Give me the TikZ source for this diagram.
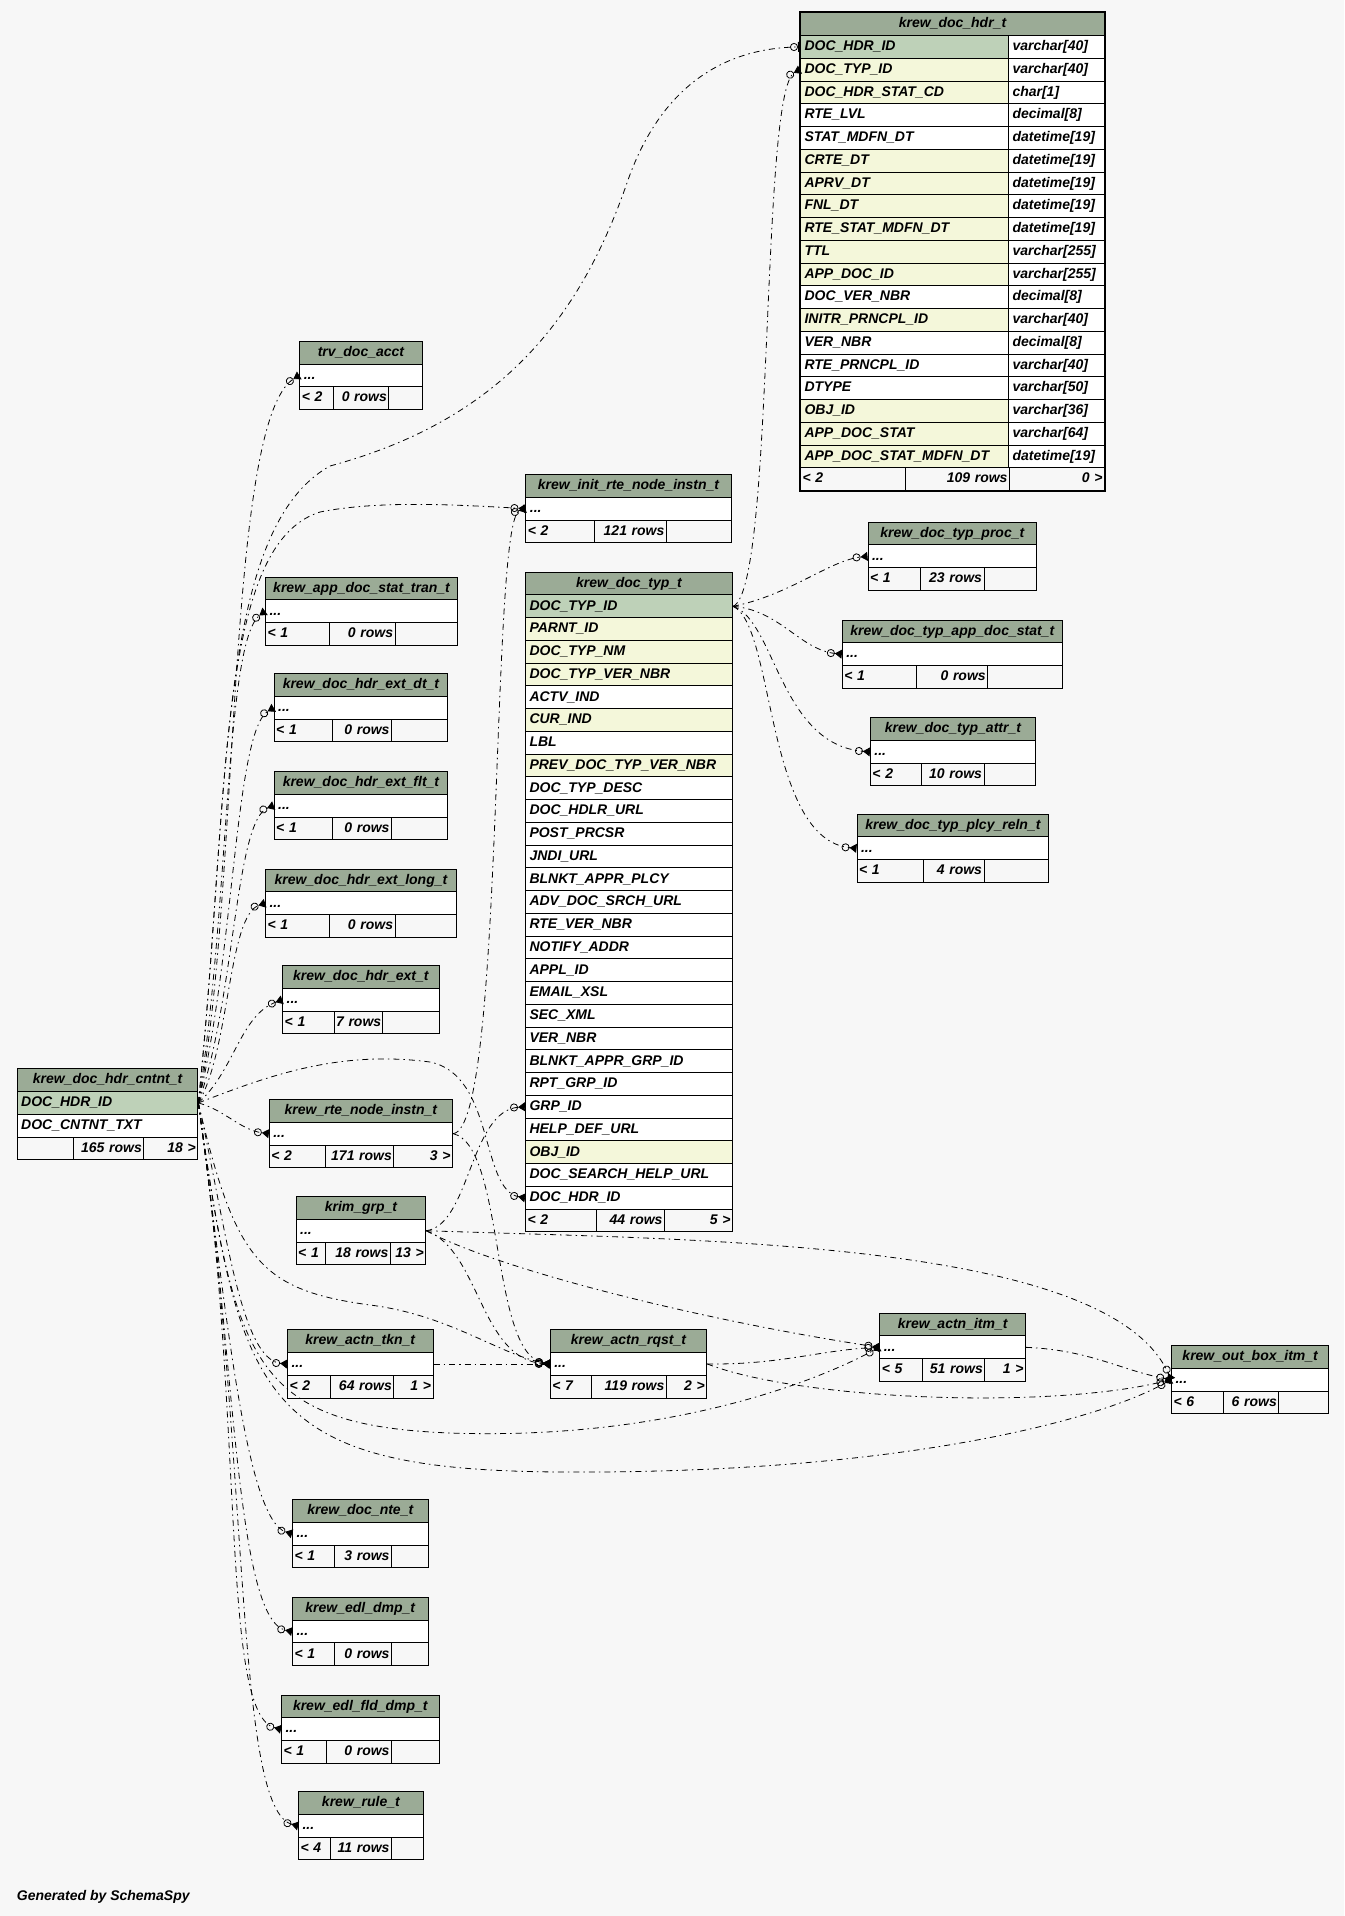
\documentclass[tikz,border=0pt]{standalone}
\usepackage{fontspec}
\setmainfont{Liberation Sans}
\usetikzlibrary{arrows.meta,positioning}
\definecolor{bgc}{HTML}{F7F7F7}
\definecolor{hdrc}{HTML}{9BAB96}
\definecolor{pkc}{HTML}{BED1B8}
\definecolor{fkc}{HTML}{F4F7DA}

\begin{document}
\begin{tikzpicture}[
  x=1pt, y=-1pt,
  font=\fontsize{14}{16}\selectfont\bfseries\itshape,
  cell/.style={
    draw=black,
    line width=1pt,
    anchor=north west,
    minimum height=22.75pt,
    inner xsep=4pt,
    inner ysep=0pt,
    text height=10.5pt,
    text depth=3pt
  },
  tname/.style={cell, fill=hdrc, align=center},
  fld/.style={cell, fill=white, align=left},
  foot/.style={cell, fill=bgc, inner xsep=2pt},
  rel/.style={draw=black, line width=0.8pt, dash pattern=on 6pt off 4pt on 1.5pt off 4pt},
  many/.style={rel, -{Circle[open, length=8pt, line width=0.8pt] Triangle[reversed, length=7pt, width=9pt]}},
  one/.style={rel, -{Circle[open, length=8pt, line width=0.8pt] Bar[width=10pt, line width=2pt]}}
]
  \path[use as bounding box, fill=bgc] (0,0) rectangle (1344,1916);

  % krew_doc_hdr_t
  \node[tname, minimum width=304pt] (hdr) at (800,12.3) {krew\_doc\_hdr\_t};
  \foreach \f/\t/\c [count=\i] in {
    DOC\_HDR\_ID/varchar[40]/pkc, DOC\_TYP\_ID/varchar[40]/fkc,
    DOC\_HDR\_STAT\_CD/char[1]/fkc, RTE\_LVL/decimal[8]/white,
    STAT\_MDFN\_DT/datetime[19]/white, CRTE\_DT/datetime[19]/fkc,
    APRV\_DT/datetime[19]/fkc, FNL\_DT/datetime[19]/fkc,
    RTE\_STAT\_MDFN\_DT/datetime[19]/fkc, TTL/varchar[255]/fkc,
    APP\_DOC\_ID/varchar[255]/fkc, DOC\_VER\_NBR/decimal[8]/white,
    INITR\_PRNCPL\_ID/varchar[40]/fkc, VER\_NBR/decimal[8]/white,
    RTE\_PRNCPL\_ID/varchar[40]/white, DTYPE/varchar[50]/white,
    OBJ\_ID/varchar[36]/fkc, APP\_DOC\_STAT/varchar[64]/fkc,
    APP\_DOC\_STAT\_MDFN\_DT/datetime[19]/fkc}
  {
    \node[fld, fill=\c, text width=200pt] (hdr-\i) at (800,12.3+22.75*\i) {\f};
    \node[fld, text width=88pt] (hdr-\i t) at (1008,12.3+22.75*\i) {\t};
  }
  \node[foot, text width=101pt, align=left] (hdr-f1) at (800,467.3) {< 2};
  \node[foot, text width=100pt, align=right] (hdr-f2) at (905,467.3) {109 rows};
  \node[foot, text width=91pt, align=right] (hdr-f3) at (1009,467.3) {0 >};
  \draw[line width=2pt] (hdr.north west) rectangle (hdr-f3.south east);

  % krew_doc_typ_t
  \node[tname, minimum width=207pt] (typ) at (525,571.7) {krew\_doc\_typ\_t};
  \foreach \f/\c [count=\i] in {
    DOC\_TYP\_ID/pkc, PARNT\_ID/fkc, DOC\_TYP\_NM/fkc, DOC\_TYP\_VER\_NBR/fkc,
    ACTV\_IND/white, CUR\_IND/fkc, LBL/white, PREV\_DOC\_TYP\_VER\_NBR/fkc,
    DOC\_TYP\_DESC/white, DOC\_HDLR\_URL/white, POST\_PRCSR/white,
    JNDI\_URL/white, BLNKT\_APPR\_PLCY/white, ADV\_DOC\_SRCH\_URL/white,
    RTE\_VER\_NBR/white, NOTIFY\_ADDR/white, APPL\_ID/white, EMAIL\_XSL/white,
    SEC\_XML/white, VER\_NBR/white, BLNKT\_APPR\_GRP\_ID/white,
    RPT\_GRP\_ID/white, GRP\_ID/white, HELP\_DEF\_URL/white, OBJ\_ID/fkc,
    DOC\_SEARCH\_HELP\_URL/white, DOC\_HDR\_ID/white}
  {
    \node[fld, fill=\c, text width=199pt] (typ-\i) at (525,571.7+22.75*\i) {\f};
  }
  \node[foot, text width=67pt, align=left] (typ-f1) at (525,1208.7) {< 2};
  \node[foot, text width=64pt, align=right] (typ-f2) at (596,1208.7) {44 rows};
  \node[foot, text width=64pt, align=right] (typ-f3) at (664,1208.7) {5 >};

  % krew_doc_hdr_cntnt_t
  \node[tname, minimum width=180.6pt] (cntnt) at (16.7,1068.3) {krew\_doc\_hdr\_cntnt\_t};
  \node[fld, fill=pkc, text width=172.6pt] (cntnt-1) at (16.7,1091.05) {DOC\_HDR\_ID};
  \node[fld, text width=172.6pt] (cntnt-2) at (16.7,1113.8) {DOC\_CNTNT\_TXT};
  \node[foot, text width=52pt] (cntnt-f1) at (16.7,1136.55) {};
  \node[foot, text width=66.6pt, align=right] (cntnt-f2) at (72.7,1136.55) {165 rows};
  \node[foot, text width=50pt, align=right] (cntnt-f3) at (143.3,1136.55) {18 >};

  % tables shown collapsed
  \foreach \id/\x/\y/\r/\ttl/\sa/\sb/\fa/\fb/\fc in {
    acct/299.3/340.8/421.6/trv\_doc\_acct/332.8/388.4/{< 2}/{0 rows}/{},
    init/525.4/474/730.6/krew\_init\_rte\_node\_instn\_t/593.8/665.9/{< 2}/{121 rows}/{},
    app/265.1/576.7/457/krew\_app\_doc\_stat\_tran\_t/328.7/394.6/{< 1}/{0 rows}/{},
    extdt/273.7/673.2/447.2/krew\_doc\_hdr\_ext\_dt\_t/332.3/391/{< 1}/{0 rows}/{},
    extflt/273.7/771/447.2/krew\_doc\_hdr\_ext\_flt\_t/332.3/391/{< 1}/{0 rows}/{},
    extlong/265.1/868.7/455.7/krew\_doc\_hdr\_ext\_long\_t/328.7/394.6/{< 1}/{0 rows}/{},
    ext/282.2/965.2/438.6/krew\_doc\_hdr\_ext\_t/333.6/382.4/{< 1}/{7 rows}/{},
    rte/268.8/1099/452/krew\_rte\_node\_instn\_t/325/393.4/{< 2}/{171 rows}/{3 >},
    krim/295.7/1196.1/425.2/krim\_grp\_t/325/389.8/{< 1}/{18 rows}/{13 >},
    tkn/287.1/1329.3/432.5/krew\_actn\_tkn\_t/329.9/393.4/{< 2}/{64 rows}/{1 >},
    rqst/549.8/1329.3/706.2/krew\_actn\_rqst\_t/591.4/665.9/{< 7}/{119 rows}/{2 >},
    itm/879.3/1312.7/1025/krew\_actn\_itm\_t/921.7/984.3/{< 5}/{51 rows}/{1 >},
    obox/1171/1345/1328.3/krew\_out\_box\_itm\_t/1223.3/1278.3/{< 6}/{6 rows}/{},
    nte/292/1499.1/427.6/krew\_doc\_nte\_t/333.6/391/{< 1}/{3 rows}/{},
    edl/292/1596.9/427.6/krew\_edl\_dmp\_t/333.6/391/{< 1}/{0 rows}/{},
    edlfld/281/1694.6/438.6/krew\_edl\_fld\_dmp\_t/326.2/391/{< 1}/{0 rows}/{},
    rule/298.1/1791.2/422.7/krew\_rule\_t/329.9/391/{< 4}/{11 rows}/{},
    proc/867.5/521.7/1036.1/krew\_doc\_typ\_proc\_t/920/983.5/{< 1}/{23 rows}/{},
    appstat/841.8/619.5/1061.7/krew\_doc\_typ\_app\_doc\_stat\_t/916.4/987.2/{< 1}/{0 rows}/{},
    attr/869.9/717.2/1034.9/krew\_doc\_typ\_attr\_t/921.2/983.5/{< 2}/{10 rows}/{},
    plcy/856.5/813.7/1048.3/krew\_doc\_typ\_plcy\_reln\_t/922.5/983.5/{< 1}/{4 rows}/{}}
  {
    \pgfmathsetmacro\w{\r-\x}
    \pgfmathsetmacro\wr{\r-\x-8}
    \pgfmathsetmacro\wa{\sa-\x-4}
    \pgfmathsetmacro\wb{\sb-\sa-4}
    \pgfmathsetmacro\wc{\r-\sb-4}
    \node[tname, minimum width=\w pt] (\id) at (\x,\y) {\ttl};
    \node[fld, text width=\wr pt] (\id-r) at (\x,\y+22.75) {...};
    \node[foot, text width=\wa pt, align=left] (\id-f1) at (\x,\y+45.5) {\mbox{\fa}};
    \node[foot, text width=\wb pt, align=right] (\id-f2) at (\sa,\y+45.5) {\mbox{\fb}};
    \node[foot, text width=\wc pt, align=right] (\id-f3) at (\sb,\y+45.5) {\mbox{\fc}};
  }

  \node[anchor=west, inner sep=0pt] (gen) at (16.7,1896.7) {Generated by SchemaSpy};

  % relationships from krew_doc_hdr_cntnt_t
  \draw[one] (cntnt-1.east) .. controls (230,800) and (215,530) .. (330,466) .. controls (500,420) and (580,320) .. (628,180) .. controls (660,90) and (720,48) .. (hdr-1.west);
  \draw[many] (cntnt-1.east) .. controls (240,900) and (225,420) .. (acct-r.west);
  \draw[many] (cntnt-1.east) .. controls (230,800) and (215,545) .. (320,512) .. controls (380,500) and (460,505) .. (init-r.west);
  \draw[many] (cntnt-1.east) .. controls (230,900) and (225,640) .. (app-r.west);
  \draw[many] (cntnt-1.east) .. controls (235,950) and (235,730) .. (extdt-r.west);
  \draw[many] (cntnt-1.east) .. controls (235,1000) and (235,820) .. (extflt-r.west);
  \draw[many] (cntnt-1.east) .. controls (230,1050) and (228,915) .. (extlong-r.west);
  \draw[many] (cntnt-1.east) .. controls (235,1070) and (240,1015) .. (ext-r.west);
  \draw[many] (cntnt-1.east) .. controls (225,1110) and (240,1130) .. (rte-r.west);
  \draw[many] (cntnt-1.east) .. controls (270,1075) and (340,1050) .. (430,1062) .. controls (495,1075) and (480,1190) .. (typ-27.west);
  \draw[many] (cntnt-1.east) .. controls (225,1220) and (240,1360) .. (tkn-r.west);
  \draw[many] (cntnt-1.east) .. controls (235,1260) and (260,1290) .. (370,1305) .. controls (450,1315) and (500,1355) .. (rqst-r.west);
  \draw[many] (cntnt-1.east) .. controls (235,1360) and (250,1425) .. (450,1433) .. controls (650,1440) and (800,1390) .. (itm-r.west);
  \draw[many] (cntnt-1.east) .. controls (240,1400) and (260,1470) .. (560,1472) .. controls (900,1474) and (1100,1420) .. (obox-r.west);
  \draw[many] (cntnt-1.east) .. controls (225,1300) and (245,1520) .. (nte-r.west);
  \draw[many] (cntnt-1.east) .. controls (235,1350) and (235,1620) .. (edl-r.west);
  \draw[many] (cntnt-1.east) .. controls (245,1420) and (220,1715) .. (edlfld-r.west);
  \draw[many] (cntnt-1.east) .. controls (250,1470) and (235,1810) .. (rule-r.west);

  % relationships from krew_doc_typ_t
  \draw[many] (typ-1.east) .. controls (775,590) and (760,90) .. (hdr-2.west);
  \draw[many] (typ-1.east) .. controls (790,595) and (830,560) .. (proc-r.west);
  \draw[many] (typ-1.east) .. controls (780,610) and (800,650) .. (appstat-r.west);
  \draw[many] (typ-1.east) .. controls (775,620) and (780,745) .. (attr-r.west);
  \draw[many] (typ-1.east) .. controls (775,625) and (765,840) .. (plcy-r.west);

  % relationships from krim_grp_t and krew_rte_node_instn_t
  \draw[many] (krim-r.east) .. controls (470,1225) and (470,1110) .. (typ-23.west);
  \draw[many] (krim-r.east) .. controls (480,1250) and (480,1360) .. (rqst-r.west);
  \draw[many] (krim-r.east) .. controls (500,1270) and (700,1320) .. (itm-r.west);
  \draw[many] (krim-r.east) .. controls (700,1240) and (1110,1240) .. (obox-r.west);
  \draw[many] (rte-r.east) .. controls (505,1130) and (490,520) .. (init-r.west);
  \draw[many] (rte-r.east) .. controls (505,1145) and (490,1355) .. (rqst-r.west);

  % action tables
  \draw[many] (tkn-r.east) -- (rqst-r.west);
  \draw[many] (rqst-r.east) .. controls (780,1365) and (820,1350) .. (itm-r.west);
  \draw[many] (rqst-r.east) .. controls (800,1400) and (1050,1410) .. (obox-r.west);
  \draw[many] (itm-r.east) .. controls (1090,1350) and (1120,1370) .. (obox-r.west);
\end{tikzpicture}
\end{document}
